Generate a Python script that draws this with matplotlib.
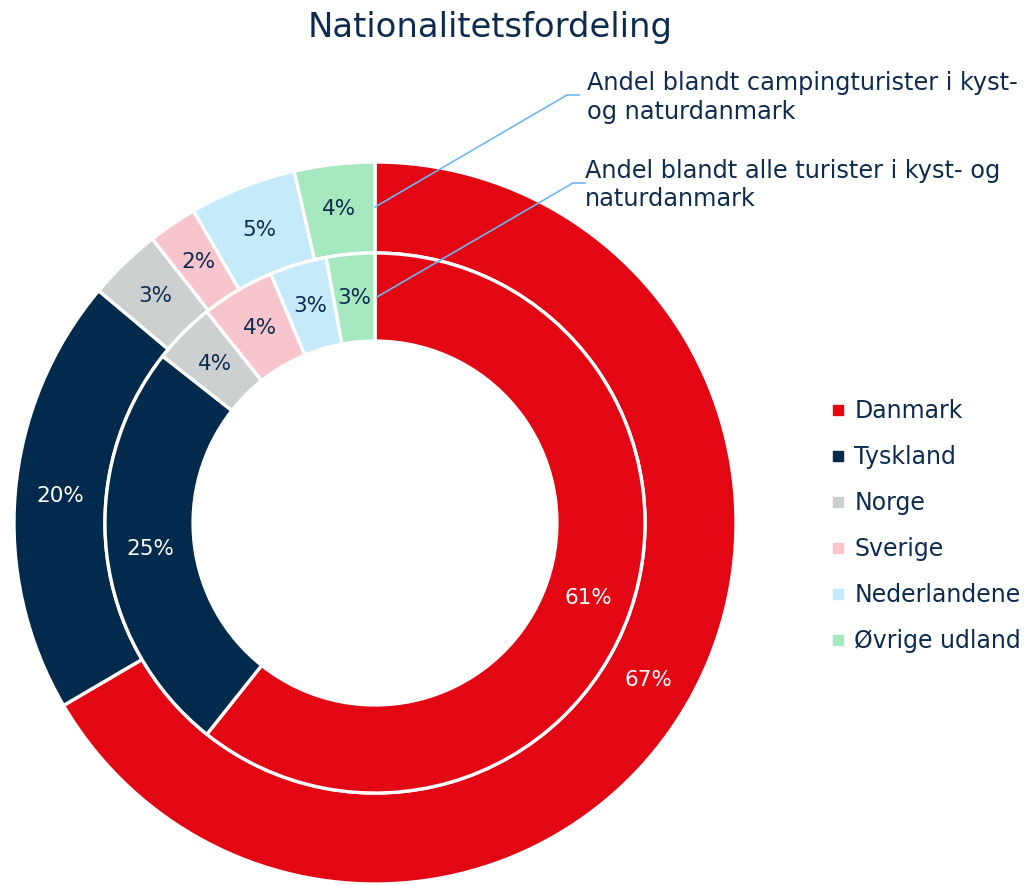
import matplotlib
matplotlib.use("Agg")
import matplotlib.pyplot as plt
from matplotlib.lines import Line2D
import numpy as np

# ---- data ----
categories = ["Danmark", "Tyskland", "Norge", "Sverige", "Nederlandene", "Øvrige udland"]
camping_share = [66.7, 19.6, 3.3, 2.2, 4.8, 3.6]      # outer ring
all_share = [60.7, 24.9, 3.7, 4.4, 3.4, 2.9]          # inner ring
outer_labels = ["67%", "20%", "3%", "2%", "5%", "4%"]
inner_labels = ["61%", "25%", "4%", "4%", "3%", "3%"]
colors = ["#E30613", "#012A4C", "#CDD0D1", "#F8C5CD", "#C5EAFA", "#A6E9C1"]
label_colors = ["white", "white", "#0D2B4E", "#0D2B4E", "#0D2B4E", "#0D2B4E"]
title = "Nationalitetsfordeling"
ann_outer = "Andel blandt campingturister i kyst-\nog naturdanmark"
ann_inner = "Andel blandt alle turister i kyst- og\nnaturdanmark"

NAVY = "#0D2B4E"
LINE = "#6FB7F2"
plt.rcParams['font.family'] = ['DejaVu Sans']

W, H = 1028, 885
fig = plt.figure(figsize=(W / 100, H / 100), dpi=100)
cx, cy, R = 375, 523, 361
ax = fig.add_axes([(cx - R) / W, (H - cy - R) / H, 2 * R / W, 2 * R / H])
ax.set_aspect('equal')
ax.axis('off')

r_out, w_out = 1.0, 0.252
r_in, w_in = 0.748, 0.244

wo, _ = ax.pie(camping_share, radius=r_out, colors=colors, startangle=90, counterclock=False,
               wedgeprops=dict(width=w_out, edgecolor='white', linewidth=2.4))
wi, _ = ax.pie(all_share, radius=r_in, colors=colors, startangle=90, counterclock=False,
               wedgeprops=dict(width=w_in, edgecolor='white', linewidth=2.4))

def place(wedges, labels, rad, fs):
    for w, lab, tc in zip(wedges, labels, label_colors):
        ang = np.deg2rad((w.theta1 + w.theta2) / 2)
        ax.text(rad * np.cos(ang), rad * np.sin(ang), lab, ha='center', va='center',
                fontsize=fs, color=tc)

place(wo, outer_labels, r_out - w_out / 2, 15.5)
place(wi, inner_labels, r_in - w_in / 2, 15.5)

ax.set_xlim(-1, 1)
ax.set_ylim(-1, 1)

def px(x, y):
    return (x - cx) / R, (cy - y) / R

# annotation leader lines
for (x0, y0), (x1, y1), (x2, y2) in [((375, 207), (567, 95), (579, 95)),
                                     ((377, 297), (573, 183), (585, 183))]:
    a, b, c = px(x0, y0), px(x1, y1), px(x2, y2)
    ax.plot([a[0], b[0], c[0]], [a[1], b[1], c[1]], color=LINE, lw=1.2, clip_on=False)

fig.text(587 / W, 1 - 71 / H, ann_outer, ha='left', va='top', fontsize=17.3,
         color=NAVY, linespacing=1.24)
fig.text(585 / W, 1 - 159 / H, ann_inner, ha='left', va='top', fontsize=17.3,
         color=NAVY, linespacing=1.22)

fig.text(490 / W, 1 - 28 / H, title, ha='center', va='center', fontsize=24.4, color=NAVY)

handles = [Line2D([], [], marker='s', linestyle='none', markersize=7, color=c) for c in colors]
fig.legend(handles, categories, loc='upper left', bbox_to_anchor=(832 / W, 1 - 399 / H),
           frameon=False, fontsize=17, labelcolor=NAVY, handlelength=0.5,
           handletextpad=0.45, labelspacing=0.93, borderaxespad=0, borderpad=0)

fig.savefig("out.png", dpi=100)
